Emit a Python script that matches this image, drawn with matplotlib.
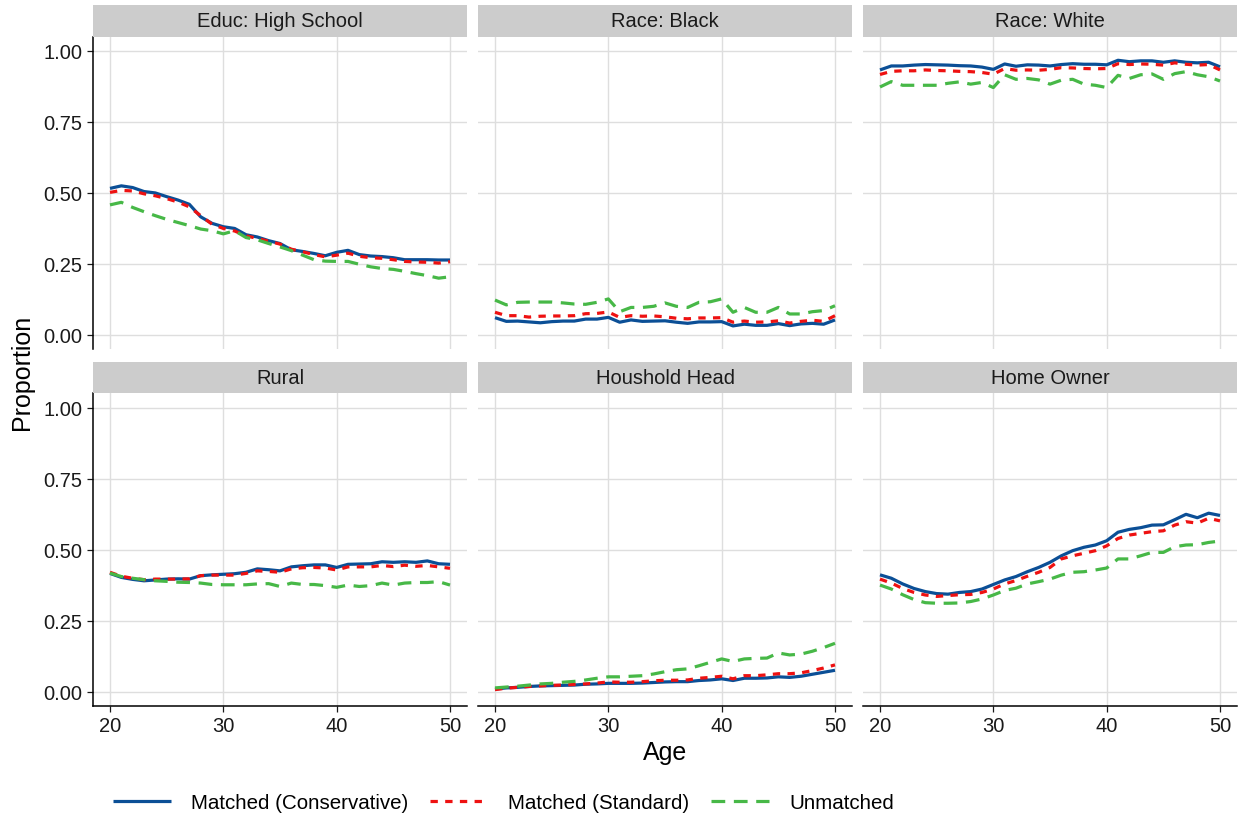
import matplotlib
matplotlib.use("Agg")
import matplotlib.pyplot as plt
import numpy as np

plt.rcParams['font.family'] = ['Liberation Sans', 'DejaVu Sans']

ages = list(range(20, 51))

# Educ: High School
educ_cons = [0.516, 0.525, 0.519, 0.505, 0.500, 0.487, 0.475, 0.460, 0.416, 0.393, 0.381,
             0.375, 0.353, 0.345, 0.332, 0.322, 0.300, 0.294, 0.287, 0.279, 0.291,
             0.298, 0.283, 0.278, 0.276, 0.272, 0.265, 0.265, 0.265, 0.264, 0.264]
educ_std = [0.502, 0.509, 0.507, 0.497, 0.490, 0.480, 0.468, 0.451, 0.420, 0.390, 0.375,
            0.366, 0.349, 0.340, 0.330, 0.320, 0.302, 0.293, 0.283, 0.275, 0.281,
            0.288, 0.277, 0.272, 0.270, 0.265, 0.259, 0.257, 0.256, 0.253, 0.258]
educ_unm = [0.458, 0.467, 0.449, 0.434, 0.420, 0.407, 0.396, 0.385, 0.373, 0.367, 0.356,
            0.367, 0.343, 0.335, 0.322, 0.310, 0.297, 0.281, 0.265, 0.260, 0.259,
            0.259, 0.249, 0.240, 0.234, 0.231, 0.224, 0.216, 0.209, 0.200, 0.205]

# Race: Black
black_cons = [0.061, 0.048, 0.049, 0.046, 0.043, 0.047, 0.049, 0.049, 0.056, 0.056, 0.062,
              0.045, 0.053, 0.048, 0.049, 0.050, 0.045, 0.041, 0.046, 0.046, 0.047,
              0.032, 0.038, 0.034, 0.034, 0.040, 0.033, 0.039, 0.041, 0.038, 0.053]
black_std = [0.080, 0.068, 0.068, 0.063, 0.066, 0.067, 0.067, 0.068, 0.075, 0.076, 0.081,
             0.062, 0.068, 0.066, 0.067, 0.064, 0.059, 0.057, 0.060, 0.060, 0.061,
             0.045, 0.049, 0.045, 0.046, 0.050, 0.042, 0.048, 0.052, 0.048, 0.068]
black_unm = [0.123, 0.106, 0.115, 0.116, 0.116, 0.116, 0.113, 0.109, 0.108, 0.115, 0.127,
             0.082, 0.097, 0.097, 0.101, 0.113, 0.101, 0.097, 0.115, 0.117, 0.127,
             0.080, 0.097, 0.080, 0.080, 0.097, 0.074, 0.074, 0.082, 0.086, 0.103]

# Race: White
white_cons = [0.933, 0.947, 0.947, 0.950, 0.952, 0.951, 0.950, 0.948, 0.947, 0.943, 0.935,
              0.954, 0.946, 0.951, 0.950, 0.947, 0.952, 0.955, 0.953, 0.953, 0.951,
              0.967, 0.962, 0.965, 0.965, 0.960, 0.965, 0.960, 0.958, 0.960, 0.944]
white_std = [0.917, 0.928, 0.930, 0.930, 0.933, 0.931, 0.930, 0.928, 0.927, 0.924, 0.918,
             0.938, 0.932, 0.933, 0.932, 0.935, 0.941, 0.940, 0.938, 0.937, 0.938,
             0.955, 0.952, 0.954, 0.953, 0.950, 0.958, 0.953, 0.950, 0.952, 0.933]
white_unm = [0.873, 0.892, 0.879, 0.879, 0.879, 0.879, 0.886, 0.891, 0.883, 0.889, 0.871,
             0.916, 0.900, 0.903, 0.898, 0.883, 0.897, 0.900, 0.883, 0.879, 0.871,
             0.914, 0.903, 0.916, 0.919, 0.900, 0.920, 0.927, 0.916, 0.909, 0.894]

# Rural
rural_cons = [0.416, 0.402, 0.395, 0.390, 0.393, 0.396, 0.397, 0.396, 0.408, 0.411, 0.413,
              0.415, 0.420, 0.432, 0.429, 0.425, 0.439, 0.443, 0.446, 0.446, 0.437,
              0.448, 0.449, 0.450, 0.457, 0.455, 0.457, 0.455, 0.460, 0.450, 0.448]
rural_std = [0.420, 0.406, 0.399, 0.394, 0.396, 0.396, 0.396, 0.397, 0.408, 0.410, 0.410,
             0.410, 0.416, 0.425, 0.423, 0.420, 0.432, 0.436, 0.437, 0.435, 0.428,
             0.439, 0.439, 0.439, 0.444, 0.440, 0.445, 0.441, 0.444, 0.439, 0.434]
rural_unm = [0.417, 0.405, 0.399, 0.394, 0.390, 0.388, 0.385, 0.384, 0.382, 0.377, 0.376,
             0.376, 0.376, 0.379, 0.380, 0.370, 0.382, 0.377, 0.377, 0.373, 0.367,
             0.375, 0.370, 0.373, 0.382, 0.375, 0.382, 0.384, 0.384, 0.387, 0.375]

# Houshold Head
head_cons = [0.009, 0.013, 0.015, 0.018, 0.020, 0.021, 0.022, 0.023, 0.026, 0.027, 0.029,
             0.029, 0.029, 0.030, 0.032, 0.034, 0.035, 0.035, 0.039, 0.041, 0.045,
             0.039, 0.047, 0.047, 0.048, 0.052, 0.050, 0.054, 0.061, 0.068, 0.075]
head_std = [0.007, 0.012, 0.015, 0.018, 0.020, 0.022, 0.023, 0.025, 0.027, 0.030, 0.034,
            0.033, 0.033, 0.035, 0.038, 0.040, 0.040, 0.041, 0.047, 0.050, 0.054,
            0.045, 0.056, 0.056, 0.059, 0.063, 0.063, 0.066, 0.074, 0.083, 0.094]
head_unm = [0.013, 0.016, 0.019, 0.023, 0.027, 0.029, 0.033, 0.036, 0.041, 0.047, 0.052,
            0.052, 0.054, 0.056, 0.062, 0.070, 0.077, 0.080, 0.091, 0.103, 0.115,
            0.106, 0.115, 0.117, 0.118, 0.136, 0.129, 0.132, 0.142, 0.155, 0.170]

# Home Owner
home_cons = [0.411, 0.399, 0.379, 0.363, 0.352, 0.345, 0.343, 0.349, 0.352, 0.361, 0.377,
             0.393, 0.405, 0.422, 0.437, 0.455, 0.478, 0.496, 0.508, 0.516, 0.531,
             0.561, 0.571, 0.577, 0.586, 0.587, 0.605, 0.624, 0.612, 0.628, 0.620]
home_std = [0.396, 0.382, 0.363, 0.349, 0.340, 0.335, 0.338, 0.341, 0.342, 0.349, 0.361,
            0.379, 0.391, 0.406, 0.420, 0.437, 0.467, 0.478, 0.487, 0.496, 0.513,
            0.539, 0.551, 0.557, 0.563, 0.566, 0.586, 0.598, 0.593, 0.610, 0.601]
home_unm = [0.375, 0.361, 0.341, 0.324, 0.313, 0.311, 0.311, 0.312, 0.317, 0.326, 0.340,
            0.356, 0.364, 0.379, 0.387, 0.396, 0.410, 0.420, 0.422, 0.428, 0.435,
            0.467, 0.467, 0.478, 0.490, 0.490, 0.510, 0.516, 0.517, 0.525, 0.530]

panel_titles = ["Educ: High School", "Race: Black", "Race: White",
                "Rural", "Houshold Head", "Home Owner"]
panel_data = [
    (educ_cons, educ_std, educ_unm),
    (black_cons, black_std, black_unm),
    (white_cons, white_std, white_unm),
    (rural_cons, rural_std, rural_unm),
    (head_cons, head_std, head_unm),
    (home_cons, home_std, home_unm),
]
series_labels = ["Matched (Conservative)", "Matched (Standard)", "Unmatched"]
series_colors = ["#0b4f96", "#ee1111", "#47b847"]
series_styles = ["-", (0, (2.3, 2.3)), (0, (4.3, 2.7))]

W, H = 1244, 820
fig = plt.figure(figsize=(W / 100, H / 100), dpi=100)

col_left = [93, 478, 863]
panel_w = 374
row_top = [37.7, 394.3]
panel_h = 312.5
strip_h = 31.7
tick_fs = 14.5
legend_fs = 14.8
grid_col = "#dedede"

handles = []
for i, title in enumerate(panel_titles):
    r, c = divmod(i, 3)
    x0 = col_left[c] / W
    y0 = 1 - (row_top[r] + panel_h) / H
    ax = fig.add_axes([x0, y0, panel_w / W, panel_h / H])
    # facet strip
    sax = fig.add_axes([x0, 1 - row_top[r] / H, panel_w / W, strip_h / H])
    sax.set_facecolor("#cccccc")
    sax.set_xticks([])
    sax.set_yticks([])
    for s in sax.spines.values():
        s.set_visible(False)
    sax.text(0.5, 0.5, title, ha="center", va="center", fontsize=tick_fs,
             color="#1a1a1a", transform=sax.transAxes)

    for vals, lab, col, ls in zip(panel_data[i], series_labels, series_colors, series_styles):
        ln, = ax.plot(ages, vals, color=col, linestyle=ls, linewidth=2.3, label=lab,
                      solid_capstyle="butt")
        if i == 0:
            handles.append(ln)

    ax.set_xlim(18.5, 51.5)
    ax.set_ylim(-0.05, 1.05)
    ax.set_xticks([20, 30, 40, 50])
    ax.set_yticks([0, 0.25, 0.5, 0.75, 1.0])
    ax.set_yticklabels(["0.00", "0.25", "0.50", "0.75", "1.00"])
    ax.grid(True, color=grid_col, linewidth=1.0)
    ax.set_axisbelow(True)
    for s in ["top", "right"]:
        ax.spines[s].set_visible(False)
    ax.tick_params(labelsize=tick_fs, colors="#1a1a1a", length=4.5, width=0.9, pad=3)
    ax.spines["left"].set_linewidth(1.1)
    ax.spines["bottom"].set_linewidth(1.1)
    if c != 0:
        ax.spines["left"].set_visible(False)
        ax.tick_params(axis="y", left=False, labelleft=False)
    if r == 0:
        ax.spines["bottom"].set_visible(False)
        ax.tick_params(axis="x", bottom=False, labelbottom=False)

fig.text(22 / W, 1 - 372.4 / H, "Proportion", rotation=90, ha="center", va="center",
         fontsize=18, color="black")
fig.text(665 / W, 1 - 753 / H, "Age", ha="center", va="center", fontsize=18, color="black")

fs_px = legend_fs * 100 / 72
fig.legend(handles=handles, loc="center left", bbox_to_anchor=(113 / W, 1 - 804 / H),
           ncol=3, frameon=False, fontsize=legend_fs, handlelength=58 / fs_px,
           handletextpad=20 / fs_px, columnspacing=22 / fs_px, borderpad=0,
           borderaxespad=0)

fig.savefig("out.png", dpi=100)
